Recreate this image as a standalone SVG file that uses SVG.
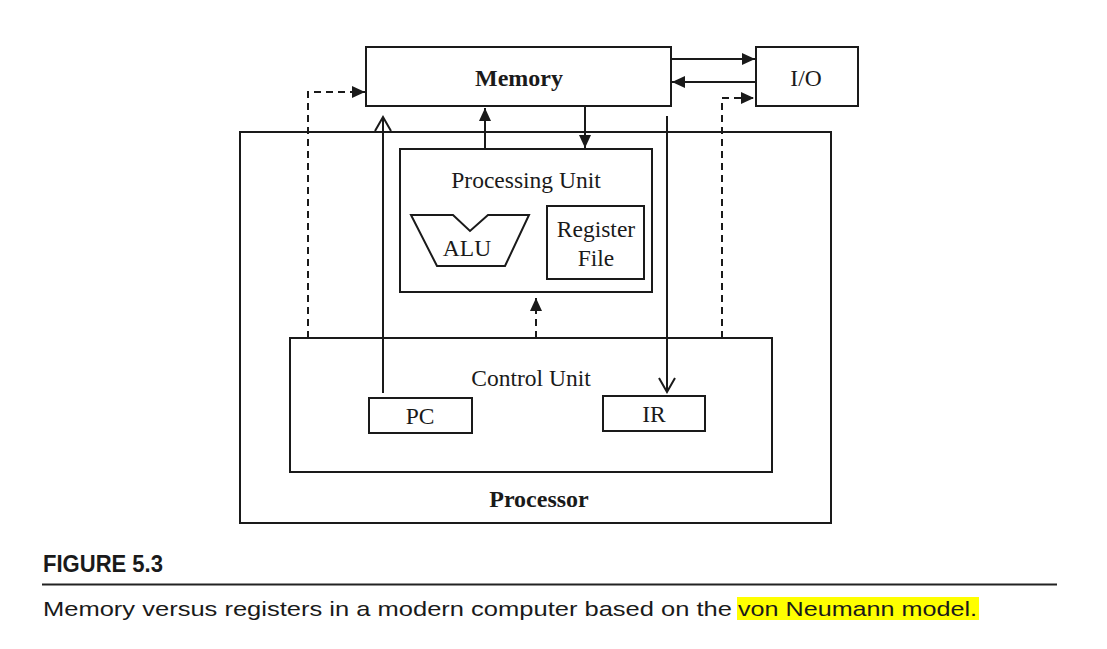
<svg xmlns="http://www.w3.org/2000/svg" width="1107" height="649" viewBox="0 0 1107 649">
<style>
.box{fill:none;stroke:#1a1a1a;stroke-width:2}
.ln{fill:none;stroke:#1a1a1a;stroke-width:2}
.dash{fill:none;stroke:#1a1a1a;stroke-width:2;stroke-dasharray:7 5}
.t{font-family:"Liberation Serif","Times New Roman",serif;font-size:23.5px;fill:#1a1a1a;text-anchor:middle}
.b{font-weight:bold;font-size:24px}
.cap{font-family:"Liberation Sans",Arial,sans-serif;fill:#1a1a1a}
</style>
<defs>
<marker id="fa" markerUnits="userSpaceOnUse" markerWidth="14" markerHeight="12" refX="13" refY="6" orient="auto">
<path d="M0,0 L13,6 L0,12 Z" fill="#1a1a1a"/>
</marker>
<marker id="oa" markerUnits="userSpaceOnUse" markerWidth="18" markerHeight="20" refX="15" refY="9" orient="auto">
<path d="M1,1 L15,9 L1,17" fill="none" stroke="#1a1a1a" stroke-width="2"/>
</marker>
</defs>
<rect width="1107" height="649" fill="#ffffff"/>

<g id="processor">
<rect class="box" x="240" y="132" width="591" height="391"/>
<text class="t b" x="539" y="507">Processor</text>
</g>
<g id="memory">
<rect class="box" x="366" y="47" width="305" height="59" fill="#fff"/>
<text class="t b" x="519" y="86">Memory</text>
</g>
<g id="io">
<rect class="box" x="756" y="47" width="102" height="59"/>
<text class="t" x="806" y="86">I/O</text>
</g>
<g id="processing-unit">
<rect class="box" x="400" y="149" width="252" height="143"/>
<text class="t" x="526" y="188">Processing Unit</text>
</g>
<g id="alu">
<path class="box" d="M411,215 L453,215 L470,231 L488,215 L529,215 L505,266 L437,266 Z"/>
<text class="t" x="467" y="256">ALU</text>
</g>
<g id="register-file">
<rect class="box" x="547" y="206" width="97" height="73"/>
<text class="t" x="596" y="237">Register</text>
<text class="t" x="596" y="266">File</text>
</g>
<g id="control-unit">
<rect class="box" x="290" y="338" width="482" height="134"/>
<text class="t" x="531" y="386">Control Unit</text>
</g>
<g id="pc">
<rect class="box" x="369" y="398" width="103" height="35"/>
<text class="t" x="420" y="424">PC</text>
</g>
<g id="ir">
<rect class="box" x="603" y="396" width="102" height="35"/>
<text class="t" x="654" y="422">IR</text>
</g>

<g id="connectors">
<line class="ln" x1="671" y1="59" x2="755" y2="59" marker-end="url(#fa)"/>
<line class="ln" x1="756" y1="82" x2="672" y2="82" marker-end="url(#fa)"/>
<polyline class="dash" points="722,338 722,98 754,98" marker-end="url(#fa)"/>
<polyline class="dash" points="308,338 308,92 365,92" marker-end="url(#fa)"/>
<line class="ln" x1="485" y1="149" x2="485" y2="108" marker-end="url(#fa)"/>
<line class="ln" x1="585" y1="107" x2="585" y2="148" marker-end="url(#fa)"/>
<line class="dash" x1="536" y1="338" x2="536" y2="298" marker-end="url(#fa)"/>
<line class="ln" x1="383" y1="393" x2="383" y2="117" marker-end="url(#oa)"/>
<line class="ln" x1="667" y1="116" x2="667" y2="392" marker-end="url(#oa)"/>
</g>

<g id="caption">
<text class="cap" x="43" y="572" font-size="23" font-weight="bold" textLength="120" lengthAdjust="spacingAndGlyphs">FIGURE 5.3</text>
<line x1="42" y1="584.5" x2="1057" y2="584.5" stroke="#222" stroke-width="2"/>
<rect x="737" y="597" width="242" height="23" fill="#ffff00"/>
<text class="cap" x="43" y="615.5" font-size="21" textLength="689" lengthAdjust="spacingAndGlyphs">Memory versus registers in a modern computer based on the</text>
<text class="cap" x="738" y="615.5" font-size="21" textLength="239" lengthAdjust="spacingAndGlyphs">von Neumann model.</text>
</g>
</svg>
